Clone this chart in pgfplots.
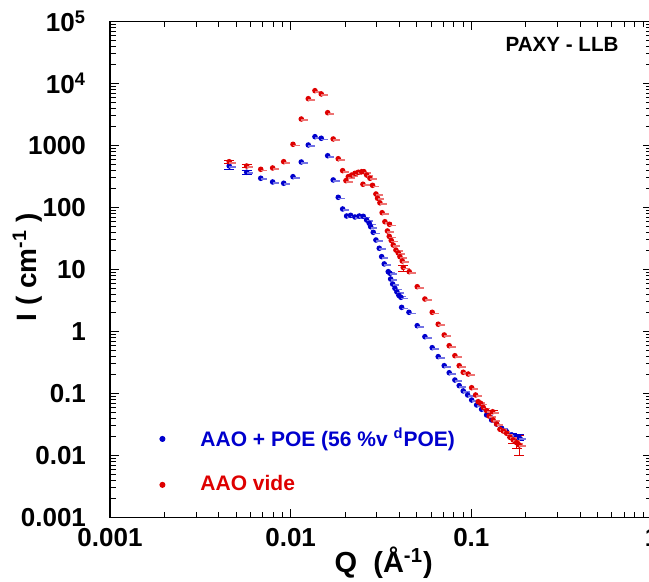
\documentclass[border=0pt]{standalone}
\usepackage{pgfplots}
\pgfplotsset{compat=1.18}
\usepackage{pgfplotstable}
\usepackage{fontspec}
\setmainfont{Liberation Sans}
\definecolor{myblue}{RGB}{0,0,205}
\definecolor{myred}{RGB}{222,0,0}
\pgfdeclareplotmark{dotdash}{%
  \pgfpathcircle{\pgfpointorigin}{\pgfplotmarksize}\pgfusepathqfill
  \pgfsetlinewidth{0.9pt}%
  \pgfpathmoveto{\pgfpoint{0pt}{-0.4\pgfplotmarksize}}%
  \pgfpathlineto{\pgfpoint{2.4\pgfplotmarksize}{-0.4\pgfplotmarksize}}%
  \pgfusepathqstroke}

\pgfplotstableread{
x y
0.00457 467
0.00571 370
0.00683 296
0.00795 258
0.00915 246
0.0103 314
0.01145 542
0.01252 1019
0.01363 1387
0.01477 1307
0.01603 684
0.0172 278
0.01834 146
0.0194 94.6
0.0204 72.9
0.02148 74.8
0.02269 70.3
0.02396 72.9
0.02522 72.1
0.02634 62.8
0.02723 55.6
0.02772 49.0
0.02865 39.8
0.02965 29.9
0.03093 22.0
0.03189 16.1
0.03296 12.3
0.03469 9.22
0.03543 8.69
0.03576 7.03
0.03668 5.83
0.03777 4.97
0.03875 4.34
0.03975 3.81
0.04077 3.56
0.04114 2.45
0.04516 2.04
0.05018 1.24
0.05535 0.824
0.06075 0.548
0.06558 0.393
0.0708 0.281
0.07544 0.216
0.0811 0.165
0.0857 0.134
0.0902 0.110
0.0954 0.0946
0.1004 0.0785
0.1070 0.0653
0.114 0.0556
0.1215 0.0450
0.1295 0.0374
0.138 0.0322
0.1471 0.0275
0.1568 0.0242
0.1671 0.0214
0.1781 0.0201
0.1841 0.0195
}\blue

\pgfplotstableread{
x y
0.00457 548
0.00571 467
0.00683 413
0.00795 434
0.00915 548
0.0103 1045
0.01145 2673
0.01252 5690
0.01363 7660
0.01477 6780
0.01603 3380
0.0172 1274
0.01834 612
0.0194 393
0.02023 271
0.02084 314
0.02176 334
0.02269 356
0.02366 370
0.02471 378
0.02544 378
0.02634 334
0.02748 296
0.02512 237
0.02839 228
0.02965 165
0.03027 141
0.03119 119
0.03208 82.4
0.03324 59.0
0.03522 53.6
0.03433 41.8
0.03513 34.3
0.03604 29.4
0.03697 24.8
0.03826 20.6
0.0394 18.5
0.04026 16.1
0.04146 13.7
0.042 10.8
0.04533 9.22
0.05018 5.28
0.05535 3.34
0.06075 2.04
0.06558 1.31
0.0708 0.879
0.07544 0.590
0.0811 0.407
0.0857 0.281
0.0902 0.220
0.0961 0.206
0.1004 0.124
0.1056 0.0946
0.1092 0.0738
0.1126 0.0695
0.1164 0.0598
0.1215 0.0528
0.1312 0.0508
0.1254 0.0433
0.132 0.0374
0.138 0.0322
0.144 0.0265
0.1502 0.0248
0.1568 0.0228
0.1635 0.0197
0.1705 0.0178
0.1781 0.0161
0.1841 0.0148
}\red

\pgfplotstableread{
x y eyp eym
0.00457 467 40 55
0.00571 370 25 25
0.1671 0.0214 0.0015 0.0015
0.1781 0.0201 0.0015 0.0015
0.1841 0.0195 0.002 0.002
}\blueerr

\pgfplotstableread{
x y eyp eym
0.00457 548 35 35
0.00571 467 30 30
0.042 10.8 0.9 1.6
0.1312 0.0508 0.003 0.003
0.1705 0.0178 0.002 0.002
0.1781 0.0161 0.003 0.003
0.1841 0.0148 0.006 0.0046
}\rederr

\begin{document}
\begin{tikzpicture}
\begin{axis}[
  at={(0,0)}, anchor=south west,
  scale only axis, width=271pt, height=248pt,
  xmode=log, ymode=log,
  xmin=0.001, xmax=1, ymin=0.001, ymax=1e5,
  xtick={0.001,0.01,0.1,1},
  xticklabels={0.001,0.01,0.1,1},
  ytick={1e-3,1e-2,1e-1,1,10,100,1000,1e4,1e5},
  yticklabels={0.001,0.01,0.1,1,10,100,1000,10\textsuperscript{4},10\textsuperscript{5}},
  minor xtick={0.002,0.003,0.004,0.005,0.006,0.007,0.008,0.009,
    0.02,0.03,0.04,0.05,0.06,0.07,0.08,0.09,
    0.2,0.3,0.4,0.5,0.6,0.7,0.8,0.9},
  minor ytick={0.002,0.003,0.004,0.005,0.006,0.007,0.008,0.009,
    0.02,0.03,0.04,0.05,0.06,0.07,0.08,0.09,
    0.2,0.3,0.4,0.5,0.6,0.7,0.8,0.9,
    2,3,4,5,6,7,8,9,
    20,30,40,50,60,70,80,90,
    200,300,400,500,600,700,800,900,
    2000,3000,4000,5000,6000,7000,8000,9000,
    20000,30000,40000,50000,60000,70000,80000,90000},
  tick align=inside,
  major tick length=4.5pt, minor tick length=2.8pt,
  tick style={black, line width=0.5pt},
  axis line style={black, line width=0.8pt},
  ticklabel style={font=\bfseries\fontsize{13}{13}\selectfont},
  xticklabel style={yshift=-2pt},
  yticklabel style={xshift=-8.5pt},
  xlabel={Q\ \ (Å\textsuperscript{-1})},
  ylabel={I ( cm\textsuperscript{-1} )},
  label style={font=\bfseries\fontsize{14.5}{14.5}\selectfont},
  xlabel style={at={(axis description cs:0.505,-0.111)}, anchor=base},
  ylabel style={at={(axis description cs:-0.152,0.505)}, anchor=center, font=\bfseries\fontsize{14}{14}\selectfont},
  legend style={at={(axis description cs:0.0905,0.189)}, anchor=north west,
    draw=none, fill=none, font=\bfseries\fontsize{10.5}{12}\selectfont,
    row sep=9pt, inner sep=0pt},
  legend cell align=left,
  legend image code/.code={\fill (0pt,0pt) circle (1.3pt); \path[draw=none,fill=none] (0pt,-0.5pt) rectangle (17pt,0.5pt);},
]
\addplot[only marks, mark=dotdash, mark size=1.4pt, color=myblue, mark options={fill=myblue, draw=myblue!55}] table[x=x,y=y] {\blue};
\addlegendentry{\textcolor{myblue}{AAO + POE (56 \%v \textsuperscript{d}POE)}}
\addplot[only marks, mark=dotdash, mark size=1.4pt, color=myred, mark options={fill=myred, draw=myred!55}] table[x=x,y=y] {\red};
\addlegendentry{\textcolor{myred}{AAO vide}}
\addplot[forget plot, draw=none, mark=none, color=myblue,
  error bars/.cd, y dir=both, y explicit, error bar style={myblue, line width=0.6pt},
  error mark options={rotate=90, mark size=2.5pt, myblue}]
  table[x=x, y=y, y error plus=eyp, y error minus=eym] {\blueerr};
\addplot[forget plot, draw=none, mark=none, color=myred,
  error bars/.cd, y dir=both, y explicit, error bar style={myred, line width=0.6pt},
  error mark options={rotate=90, mark size=2.5pt, myred}]
  table[x=x, y=y, y error plus=eyp, y error minus=eym] {\rederr};
\node[font=\bfseries\fontsize{10.3}{12}\selectfont] at (axis description cs:0.834,0.953) {PAXY - LLB};
\end{axis}
\pgfresetboundingbox
\path[use as bounding box] (-55pt,-31.85pt) rectangle (269.5pt,258.75pt);
\end{tikzpicture}
\end{document}
